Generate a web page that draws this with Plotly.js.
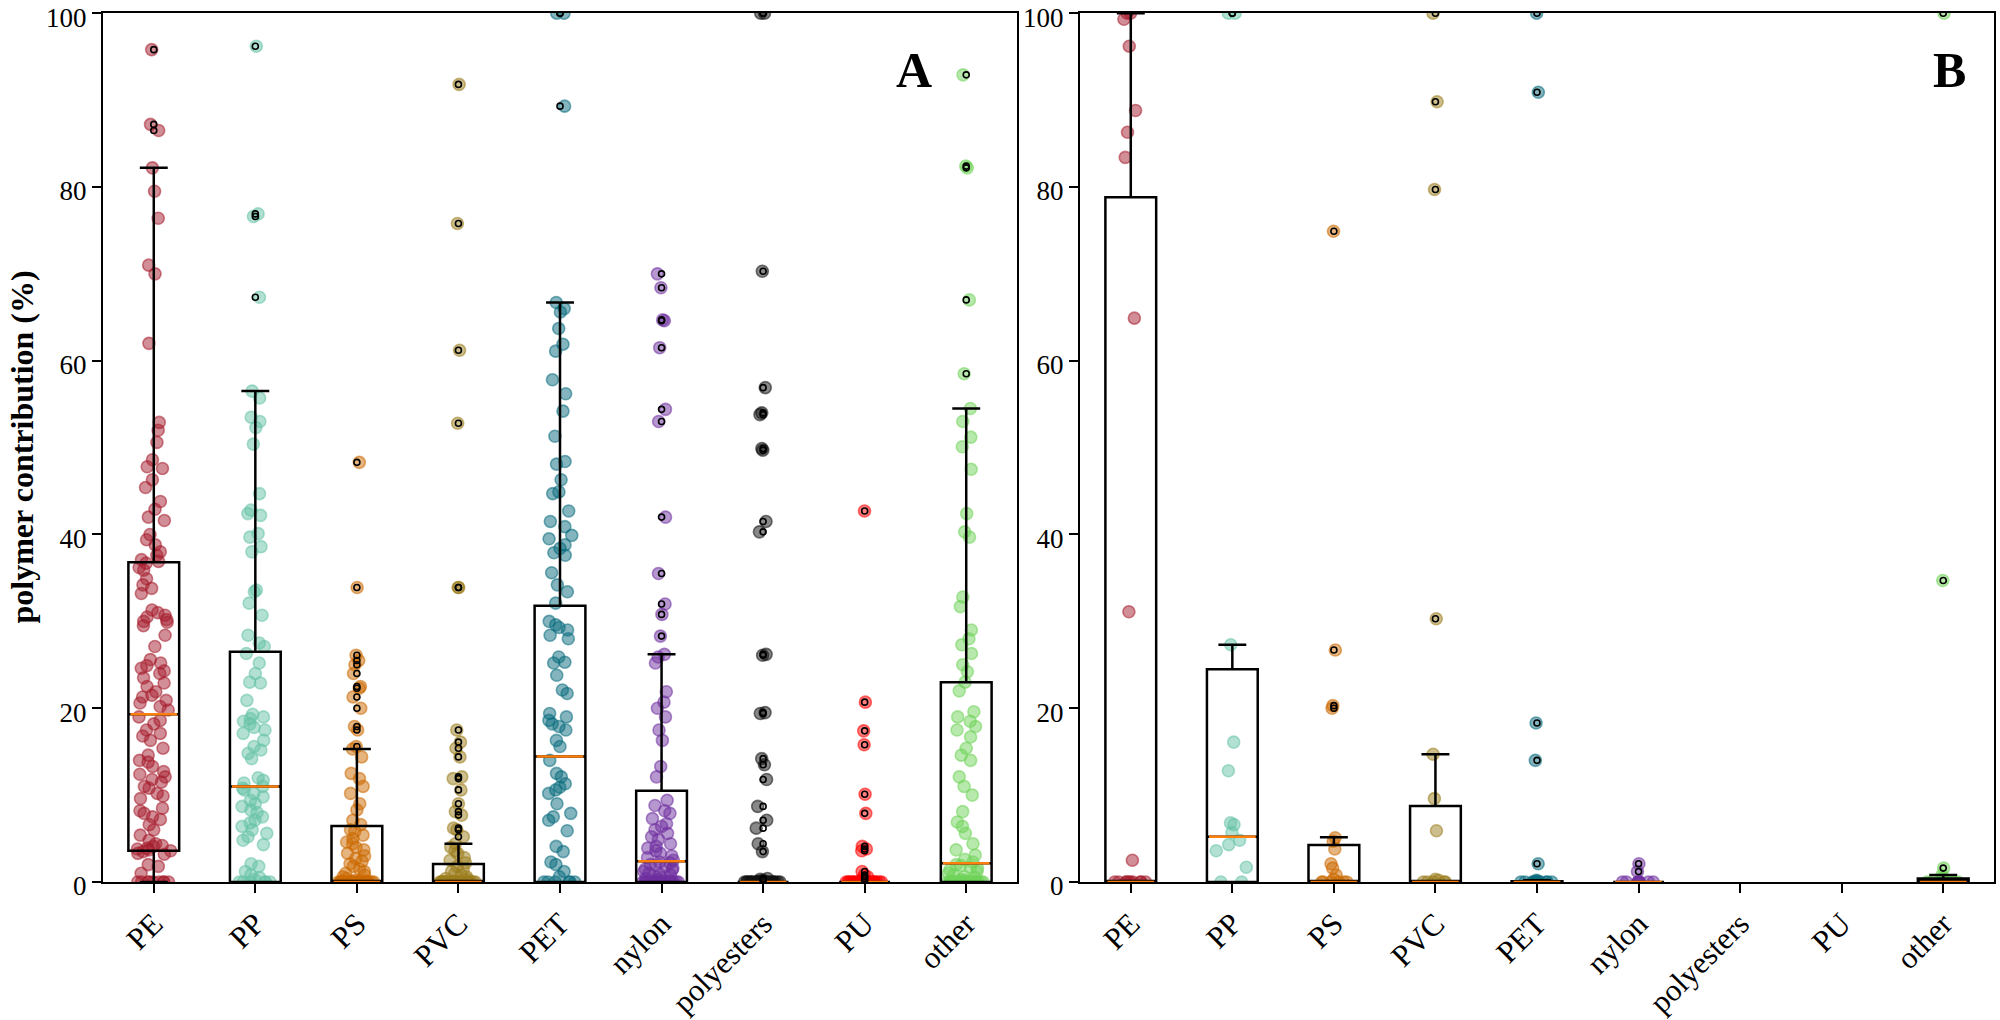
<!DOCTYPE html>
<html>
<head>
<meta charset="utf-8">
<script src="https://cdn.plot.ly/plotly-3.0.1.min.js"></script>
<style>
  html, body { margin: 0; padding: 0; background: #ffffff; }
  #chart { width: 2000px; height: 1020px; }
</style>
</head>
<body>
<div id="chart"></div>
<script>
// Polymer categories and their point colours
const categories = ['PE', 'PP', 'PS', 'PVC', 'PET', 'nylon', 'polyesters', 'PU', 'other'];
const colors = ['#a51e2d', '#66c2a5', '#cc6a00', '#9c7d1e', '#0a6b7d', '#7030a0', '#111111', '#ff0000', '#6fd45a'];
const yTicks = [0, 20, 40, 60, 80, 100];

// ---- Panel A: polymer contribution (%) per sample ----
const peA = [95.8, 87.2, 86.5, 82.2, 79.5, 76.4, 71.0, 70.0, 62.0, 52.9, 52.0, 50.6, 48.6, 47.8, 47.6, 46.3, 45.4, 43.8, 42.9, 42.0, 41.6, 40.0, 39.4, 38.8, 38.0, 37.6, 37.1, 36.9, 36.7, 36.2, 35.9, 34.9, 34.2, 33.8, 33.2, 31.3, 31.0, 30.7, 30.5, 30.2, 30.0, 29.9, 29.5, 28.4, 27.1, 25.6, 25.2, 24.9, 24.6, 24.3, 24.0, 23.5, 22.9, 22.5, 21.9, 21.5, 21.3, 20.9, 20.6, 20.2, 19.8, 19.0, 18.6, 18.2, 17.5, 17.1, 16.8, 16.3, 15.4, 14.6, 14.0, 13.8, 13.3, 12.7, 12.4, 12.1, 11.8, 11.5, 11.0, 10.8, 10.2, 9.9, 9.6, 8.5, 8.2, 7.9, 7.5, 7.2, 6.6, 6.0, 5.4, 4.8, 4.4, 4.2, 4.1, 3.9, 3.8, 3.7, 3.6, 3.5, 3.3, 3.2, 2.0, 1.8, 1.0, 0, 0, 0, 0, 0, 0, 0, 0, 0];
const ppA = [96.2, 76.9, 76.6, 67.3, 56.5, 55.7, 53.5, 53.0, 52.3, 50.4, 44.7, 42.8, 42.4, 42.2, 40.1, 39.7, 38.6, 38.0, 33.6, 33.4, 32.1, 30.7, 28.4, 27.5, 27.1, 26.3, 25.2, 24.0, 23.0, 22.9, 20.9, 19.3, 19.0, 18.8, 18.5, 18.2, 17.8, 17.5, 17.1, 16.3, 15.6, 15.2, 14.8, 14.2, 12.0, 11.7, 11.4, 11.0, 10.8, 10.6, 10.2, 9.8, 9.4, 9.0, 8.7, 8.3, 8.0, 7.5, 7.1, 6.8, 6.4, 6.0, 5.6, 5.2, 4.8, 4.3, 2.1, 1.8, 1.2, 0.8, 0.5, 0.3, 0, 0, 0, 0, 0, 0];
const psA = [48.3, 33.9, 26.1, 25.5, 25.0, 24.0, 22.5, 22.3, 21.3, 20.0, 17.9, 17.5, 15.6, 15.3, 14.4, 12.5, 11.9, 11.0, 10.2, 9.0, 8.3, 7.1, 6.6, 6.0, 5.8, 5.4, 5.0, 4.6, 4.4, 4.0, 3.7, 3.3, 3.0, 2.7, 2.4, 2.1, 1.8, 1.5, 1.2, 1.0, 0.8, 0.6, 0.4, 0.2, 0.1, 0, 0, 0, 0, 0, 0, 0, 0, 0, 0, 0, 0, 0, 0, 0, 0, 0, 0, 0, 0, 0, 0, 0, 0, 0, 0];
const pvcA = [91.8, 75.8, 61.2, 52.8, 33.9, 33.9, 17.5, 16.1, 15.4, 14.4, 12.1, 11.9, 10.6, 9.0, 8.1, 7.7, 6.2, 6.0, 5.2, 4.4, 4.0, 3.6, 3.3, 2.8, 2.5, 2.2, 1.8, 1.5, 1.2, 1.0, 0.8, 0.6, 0.4, 0.3, 0, 0, 0, 0, 0, 0, 0, 0, 0, 0, 0, 0, 0, 0, 0, 0, 0, 0, 0, 0, 0, 0, 0, 0, 0, 0, 0, 0, 0, 0];
const petA = [100, 100, 89.3, 66.7, 66.0, 65.6, 63.7, 61.9, 61.1, 57.8, 56.2, 54.2, 51.3, 48.4, 48.1, 46.3, 44.9, 44.7, 42.7, 41.5, 40.9, 39.9, 39.5, 38.8, 38.4, 37.9, 37.6, 35.6, 34.2, 33.4, 32.1, 30.0, 29.6, 29.3, 29.0, 28.4, 28.0, 25.9, 25.3, 25.2, 23.8, 22.1, 21.7, 19.4, 19.0, 18.6, 18.2, 17.9, 17.5, 16.3, 15.6, 14.0, 12.5, 12.1, 11.3, 10.9, 10.6, 10.2, 9.0, 7.9, 7.5, 7.1, 5.9, 4.1, 3.5, 2.3, 2.0, 1.2, 0.6, 0, 0, 0, 0, 0, 0];
const nylonA = [70.0, 68.4, 64.7, 64.6, 61.5, 54.4, 53.0, 42.0, 35.5, 32.0, 30.8, 28.3, 26.2, 25.9, 25.2, 21.9, 20.7, 20.0, 19.0, 17.5, 16.3, 13.3, 12.1, 9.4, 8.8, 8.2, 7.9, 7.3, 6.7, 6.4, 6.0, 5.6, 5.2, 4.9, 4.4, 4.1, 3.9, 3.6, 3.3, 3.0, 2.8, 2.5, 2.3, 2.2, 2.0, 1.9, 1.8, 1.6, 1.5, 1.4, 1.2, 1.0, 0.9, 0.8, 0.6, 0.5, 0.4, 0.3, 0.2, 0.1, 0, 0, 0, 0, 0, 0, 0, 0, 0, 0, 0, 0, 0, 0, 0, 0, 0, 0, 0, 0];
const polyestersA = [100, 100, 70.3, 56.9, 54.0, 53.8, 49.9, 49.7, 41.5, 40.3, 26.2, 26.1, 19.5, 19.4, 14.2, 13.5, 11.8, 8.7, 7.1, 6.2, 4.4, 3.5, 0.4, 0.3, 0.2, 0, 0, 0, 0, 0, 0, 0, 0, 0, 0, 0, 0, 0, 0, 0, 0, 0, 0, 0, 0, 0, 0, 0, 0];
const puA = [42.7, 20.7, 17.4, 15.8, 10.1, 7.9, 4.1, 3.8, 3.6, 1.2, 0.8, 0.6, 0.4, 0.2, 0, 0, 0, 0, 0, 0, 0, 0, 0, 0, 0, 0, 0, 0, 0, 0, 0, 0, 0, 0, 0, 0, 0, 0];
const otherA = [92.9, 82.4, 82.2, 67.0, 58.5, 54.5, 53.0, 51.2, 50.1, 47.5, 42.4, 40.3, 39.7, 32.8, 31.7, 29.0, 28.0, 27.3, 26.3, 25.0, 24.2, 23.0, 22.0, 19.6, 19.0, 18.5, 17.9, 17.5, 16.7, 15.4, 14.6, 14.0, 12.1, 11.0, 10.0, 8.1, 6.9, 6.4, 5.6, 4.4, 3.7, 3.1, 2.6, 2.3, 2.0, 1.9, 1.7, 1.6, 1.4, 1.2, 1.0, 0.8, 0.6, 0.5, 0.3, 0.2, 0, 0, 0, 0, 0, 0, 0, 0, 0, 0, 0, 0, 0, 0, 0, 0, 0, 0, 0, 0, 0, 0, 0, 0];

// Box statistics for panel A (per category, in category order)
const q1A = [3.6, 0, 0, 0, 0, 0, 0, 0, 0];
const medianA = [19.3, 11.0, 0, 0, 14.45, 2.4, 0, 0, 2.15];
const q3A = [36.8, 26.5, 6.44, 2.07, 31.8, 10.5, 0, 0, 23.0];
const lowerA = [0, 0, 0, 0, 0, 0, 0, 0, 0];
const upperA = [82.2, 56.5, 15.3, 4.4, 66.7, 26.2, 0, 0, 54.5];

// ---- Panel B ----
const peB = [100, 100, 99.3, 96.2, 88.8, 86.3, 83.4, 64.9, 31.1, 2.5, 0, 0, 0, 0, 0, 0, 0, 0, 0, 0];
const ppB = [100, 100, 27.3, 16.1, 12.8, 6.8, 6.6, 5.7, 4.8, 4.3, 3.6, 1.7, 0, 0];
const psB = [74.9, 26.7, 20.3, 20.0, 5.1, 4.7, 3.8, 2.1, 1.6, 0.8, 0.3, 0, 0, 0, 0, 0, 0];
const pvcB = [100, 89.8, 79.7, 30.3, 14.7, 9.6, 5.9, 0.3, 0.2, 0, 0, 0, 0, 0];
const petB = [100, 90.9, 18.3, 14.0, 2.1, 0.2, 0.1, 0, 0, 0, 0, 0, 0, 0, 0, 0, 0];
const nylonB = [2.1, 1.2, 0, 0, 0, 0, 0, 0, 0, 0, 0];
const polyestersB = [];
const puB = [];
const otherB = [100, 34.7, 1.6, 0.8, 0.5, 0.3, 0, 0, 0, 0, 0, 0, 0];

// Box statistics for panel B (null = no samples)
const q1B = [0, 0, 0, 0, 0, 0, null, null, 0];
const medianB = [0, 5.2, 0, 0, 0, 0, null, null, 0];
const q3B = [78.8, 24.5, 4.26, 8.75, 0.1, 0, null, null, 0.4];
const lowerB = [0, 0, 0, 0, 0, 0, null, null, 0];
const upperB = [100, 27.3, 5.14, 14.7, 0.2, 0, null, null, 0.8];

const valuesA = [peA, ppA, psA, pvcA, petA, nylonA, polyestersA, puA, otherA];
const valuesB = [peB, ppB, psB, pvcB, petB, nylonB, polyestersB, puB, otherB];

function rgba(hex, a) {
  const n = parseInt(hex.slice(1), 16);
  return 'rgba(' + ((n >> 16) & 255) + ',' + ((n >> 8) & 255) + ',' + (n & 255) + ',' + a + ')';
}

const SERIF = 'Liberation Serif, Times New Roman, serif';
const traces = [];

function addPanel(values, q1, med, q3, lo, hi, xa, ya) {
  // jittered sample points (box traces with only their points shown)
  values.forEach((vals, i) => {
    if (!vals.length) return;
    traces.push({
      type: 'box', xaxis: xa, yaxis: ya,
      x: vals.map(() => categories[i]), y: vals,
      boxpoints: 'all', jitter: 0.75, pointpos: 0, width: 0.5,
      line: { width: 0, color: 'rgba(0,0,0,0)' },
      fillcolor: 'rgba(0,0,0,0)',
      marker: { color: rgba(colors[i], 0.5), size: 12,
                line: { color: rgba(colors[i], 0.55), width: 1.6 } },
      hoverinfo: 'y', showlegend: false
    });
  });

  const idx = categories.map((c, i) => i).filter(i => q3[i] !== null);
  const pick = arr => idx.map(i => arr[i]);

  // boxes and whiskers
  traces.push({
    type: 'box', xaxis: xa, yaxis: ya, orientation: 'v',
    x: pick(categories), q1: pick(q1), median: pick(med), q3: pick(q3),
    lowerfence: pick(lo), upperfence: pick(hi),
    width: 0.5, whiskerwidth: 0.55, boxpoints: false,
    line: { color: 'black', width: 2.5 }, fillcolor: 'rgba(0,0,0,0)',
    hoverinfo: 'skip', showlegend: false
  });
  // median lines
  traces.push({
    type: 'box', xaxis: xa, yaxis: ya, orientation: 'v',
    x: pick(categories), q1: pick(med), median: pick(med), q3: pick(med),
    lowerfence: pick(med), upperfence: pick(med),
    width: 0.46, whiskerwidth: 0, boxpoints: false,
    line: { color: '#ff7f0e', width: 2.5 }, fillcolor: 'rgba(0,0,0,0)',
    hoverinfo: 'skip', showlegend: false
  });

  // outliers beyond the whiskers
  const fx = [], fy = [];
  values.forEach((vals, i) => {
    if (q3[i] === null) return;
    vals.forEach(v => {
      if (v > hi[i] || v < lo[i]) { fx.push(categories[i]); fy.push(v); }
    });
  });
  traces.push({
    type: 'scatter', mode: 'markers', xaxis: xa, yaxis: ya,
    x: fx, y: fy,
    marker: { symbol: 'circle-open', size: 6, color: 'black', line: { width: 1.6 } },
    hoverinfo: 'y', showlegend: false
  });
}

addPanel(valuesA, q1A, medianA, q3A, lowerA, upperA, 'x', 'y');
addPanel(valuesB, q1B, medianB, q3B, lowerB, upperB, 'x2', 'y2');

const yDomain = [0.1353, 0.98725];

function xAxis(domain, anchor) {
  return {
    domain: domain, anchor: anchor, type: 'category',
    categoryorder: 'array', categoryarray: categories, range: [-0.5, 8.5],
    showline: true, mirror: true, linecolor: 'black', linewidth: 2.2,
    ticks: 'outside', ticklen: 9, tickwidth: 2, tickcolor: 'black',
    tickangle: -45, showgrid: false, zeroline: false,
    ticklabeloverflow: 'allow',
    tickfont: { family: SERIF, size: 31, color: 'black' }
  };
}
function yAxis(anchor) {
  return {
    domain: yDomain, anchor: anchor, range: [0, 100.02],
    tickmode: 'array', tickvals: yTicks, ticktext: yTicks.map(String),
    showline: true, mirror: true, linecolor: 'black', linewidth: 2.2,
    ticks: 'outside', ticklen: 9, tickwidth: 2, tickcolor: 'black',
    showgrid: false, zeroline: false,
    ticklabeloverflow: 'allow', ticklabelshift: 4,
    tickfont: { family: SERIF, size: 27, color: 'black' }
  };
}

const layout = {
  width: 2000, height: 1020,
  margin: { l: 0, r: 0, t: 0, b: 0 },
  paper_bgcolor: '#ffffff', plot_bgcolor: '#ffffff',
  showlegend: false, boxmode: 'overlay',
  font: { family: SERIF, size: 27, color: 'black' },
  xaxis: xAxis([0.0515, 0.5085], 'y'),
  yaxis: yAxis('x'),
  xaxis2: xAxis([0.54, 0.997], 'y2'),
  yaxis2: yAxis('x2'),
  annotations: [
    { text: '<b>polymer contribution (%)</b>', xref: 'paper', yref: 'paper',
      x: 22 / 2000, y: (yDomain[0] + yDomain[1]) / 2, textangle: -90,
      showarrow: false, xanchor: 'center', yanchor: 'middle',
      font: { family: SERIF, size: 32, color: 'black' } },
    { text: '<b>A</b>', xref: 'paper', yref: 'paper',
      x: 914 / 2000, y: 1 - 70 / 1020, showarrow: false,
      xanchor: 'center', yanchor: 'middle',
      font: { family: SERIF, size: 50, color: 'black' } },
    { text: '<b>B</b>', xref: 'paper', yref: 'paper',
      x: 1949 / 2000, y: 1 - 70 / 1020, showarrow: false,
      xanchor: 'center', yanchor: 'middle',
      font: { family: SERIF, size: 50, color: 'black' } }
  ]
};

Plotly.newPlot('chart', traces, layout, { staticPlot: true, displayModeBar: false });
</script>
</body>
</html>
